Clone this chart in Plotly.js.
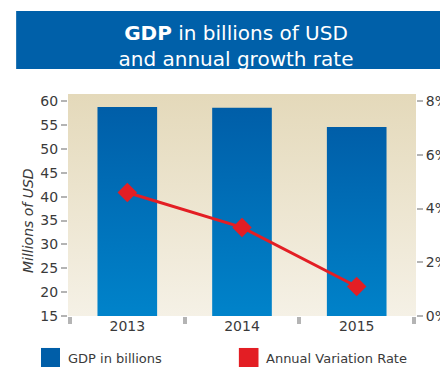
<!DOCTYPE html>
<html>
<head>
<meta charset="utf-8">
<script src="https://cdn.plot.ly/plotly-3.0.1.min.js"></script>
<style>
  html, body { margin: 0; padding: 0; background: #ffffff; }
  #chart { width: 440px; height: 375px; }
</style>
</head>
<body>
<svg width="0" height="0" style="position:absolute">
  <defs>
    <linearGradient id="barGrad" x1="0" y1="0" x2="0" y2="1">
      <stop offset="0" stop-color="#005ea8"/>
      <stop offset="1" stop-color="#0090d6"/>
    </linearGradient>
    <linearGradient id="bgGrad" x1="0" y1="0" x2="0" y2="1">
      <stop offset="0" stop-color="#e4d9ba"/>
      <stop offset="1" stop-color="#f5f1e6"/>
    </linearGradient>
  </defs>
</svg>
<div id="chart"></div>
<script>
const years = ['2013', '2014', '2015'];
const gdpBillions = [58.8, 58.6, 54.6];
const growthRate = [4.6, 3.3, 1.1];
const leftTicks = [15, 20, 25, 30, 35, 40, 45, 50, 55, 60];
const rightTicks = [0, 2, 4, 6, 8];
const rightTickText = ['0%', '2%', '4%', '6%', '8%'];

const FONT = 'DejaVu Sans, sans-serif';
const TXT = '#3a3a3a';

const traces = [
  {
    type: 'bar', x: years, y: gdpBillions, name: 'GDP in billions',
    width: 0.52, marker: {color: '#0070b8'}, yaxis: 'y', hoverinfo: 'skip'
  },
  {
    type: 'scatter', mode: 'lines+markers', x: years, y: growthRate,
    name: 'Annual Variation Rate', yaxis: 'y2',
    line: {color: '#e31e24', width: 3},
    marker: {symbol: 'diamond', size: 15, color: '#e31e24'},
    hoverinfo: 'skip'
  }
];

const layout = {
  width: 440, height: 375,
  margin: {l: 68, r: 24, t: 94, b: 59, pad: 0},
  paper_bgcolor: '#ffffff',
  plot_bgcolor: '#ece4cf',
  showlegend: false,
  font: {family: FONT, color: TXT, size: 14},
  title: {
    text: '<b>GDP</b> in billions of USD<br>and annual growth rate',
    font: {family: FONT, size: 20, color: '#ffffff'},
    xref: 'container', x: 236 / 440, xanchor: 'center',
    yref: 'container', y: 1 - 40 / 375, yanchor: 'middle'
  },
  xaxis: {
    type: 'category', range: [-0.517, 2.517],
    tickson: 'boundaries', ticks: 'outside', ticklen: 7, tickwidth: 4,
    tickcolor: '#b4b4b4', showgrid: false, showline: false, zeroline: false,
    tickfont: {family: FONT, size: 14, color: TXT}, fixedrange: true
  },
  yaxis: {
    range: [15, 61.5], tickvals: leftTicks, ticks: 'outside', ticklen: 6,
    tickwidth: 2, tickcolor: '#b4b4b4', showgrid: false, showline: false,
    zeroline: false, tickfont: {family: FONT, size: 14, color: TXT}, fixedrange: true
  },
  yaxis2: {
    overlaying: 'y', side: 'right', range: [0, 8 * 46.5 / 45],
    tickvals: rightTicks, ticktext: rightTickText, ticks: 'outside', ticklen: 6,
    tickwidth: 2, tickcolor: '#b4b4b4', showgrid: false, showline: false,
    zeroline: false, tickfont: {family: FONT, size: 14, color: TXT}, fixedrange: true
  },
  shapes: [
    {type: 'rect', xref: 'paper', yref: 'paper', x0: -0.149, x1: 1.069, y0: 1.1126, y1: 1.374,
     fillcolor: '#0060a9', line: {width: 0}, layer: 'below'},
    {type: 'rect', xref: 'paper', yref: 'paper', x0: -0.0776, x1: -0.023, y0: -0.144, y1: -0.2297,
     fillcolor: '#005ea8', line: {width: 0}},
    {type: 'rect', xref: 'paper', yref: 'paper', x0: 0.491, x1: 0.5474, y0: -0.144, y1: -0.2297,
     fillcolor: '#e31e24', line: {width: 0}}
  ],
  annotations: [
    {text: '<i>Millions of USD</i>', xref: 'paper', yref: 'paper', x: -0.115, y: 0.432,
     textangle: -90, showarrow: false, xanchor: 'center', yanchor: 'middle',
     font: {family: FONT, size: 14, color: TXT}},
    {text: 'GDP in billions', xref: 'paper', yref: 'paper', x: -0.006, y: -0.19,
     showarrow: false, xanchor: 'left', yanchor: 'middle',
     font: {family: FONT, size: 13, color: TXT}},
    {text: 'Annual Variation Rate', xref: 'paper', yref: 'paper', x: 0.563, y: -0.19,
     showarrow: false, xanchor: 'left', yanchor: 'middle',
     font: {family: FONT, size: 13, color: TXT}}
  ]
};

Plotly.newPlot('chart', traces, layout, {displayModeBar: false, staticPlot: true}).then(function (gd) {
  gd.querySelectorAll('.barlayer .point path').forEach(function (p) {
    p.style.fill = 'url(#barGrad)';
  });
  gd.querySelectorAll('rect.bg').forEach(function (r) {
    r.style.fill = 'url(#bgGrad)';
  });
});
</script>
</body>
</html>
